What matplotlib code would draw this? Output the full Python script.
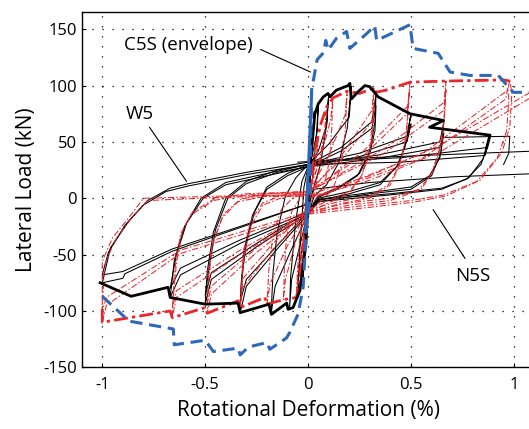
import matplotlib
matplotlib.use("Agg")
import matplotlib.pyplot as plt

plt.rcParams['font.family'] = ['Open Sans', 'DejaVu Sans']

# ---------------- data ----------------
x_ticks = [-1, -0.5, 0, 0.5, 1]
x_tick_labels = ["-1", "-0.5", "0", "0.5", "1"]
y_ticks = [-150, -100, -50, 0, 50, 100, 150]
y_tick_labels = ["-150", "-100", "-50", "0", "50", "100", "150"]

# C5S envelope (blue dashed)
c5s_x = [-1.0, -0.87, -0.655, -0.65, -0.50, -0.46, -0.34, -0.33, -0.29, -0.20, -0.186,
         -0.105, -0.089, -0.049, -0.024, -0.008, 0.008, 0.017, 0.033, 0.044, 0.074, 0.086,
         0.097, 0.138, 0.187, 0.203, 0.284, 0.324, 0.333, 0.495, 0.51, 0.632, 0.69, 0.786,
         0.924, 0.997, 1.12]
c5s_y = [-87, -109, -116, -130, -126, -136, -133, -139, -132, -128, -134,
         -124, -119, -103, -79, -26, 1, 96, 112, 123, 129, 140,
         131.5, 142, 148, 133, 146, 153, 140, 154, 133, 128.6, 112, 109,
         109, 94, 94]
c5s_core_x = [-0.012, 0.017]
c5s_core_y = [-30, 92]

# W5 envelope (black thick)
w5_env_x = [-1.01, -0.86, -0.68, -0.67, -0.50, -0.34, -0.33, -0.19, -0.178, -0.104, -0.097,
            -0.073, -0.04, -0.01, 0.0, 0.015, 0.033, 0.05, 0.074, 0.097, 0.106, 0.138, 0.195,
            0.203, 0.21, 0.24, 0.276, 0.30, 0.34, 0.495, 0.658, 0.59, 0.884, 0.868]
w5_env_y = [-75, -87, -79, -88, -94, -93, -101.5, -94, -103, -93, -98.5,
            -97, -82, -40, 0, 40, 75, 84, 90, 93, 90, 96, 100,
            102, 88, 94, 100, 99, 90, 75, 69, 63, 56, 45]

# N5S envelope (red thick dash-dot)
n5s_env_x = [-1.0, -1.0, -0.67, -0.66, -0.50, -0.49, -0.34, -0.33, -0.21, -0.2, -0.12,
             -0.056, -0.04, -0.02, 0.0, 0.03, 0.06, 0.09, 0.12, 0.19, 0.25, 0.32, 0.33,
             0.38, 0.495, 0.67, 0.95, 0.98]
n5s_env_y = [-98, -110, -100, -106, -97, -102, -91, -97, -88, -94, -90,
             -88, -70, -40, 0, 40, 65, 81, 89, 95, 93, 98, 94,
             96, 103, 104, 105, 104]

# W5 hysteresis loops (black thin)
w5_loops_x = [
    [0, 0.01, 0.02, 0.03, 0.025, 0.01, 0, -0.01, -0.02, -0.025, -0.02, -0.01, 0],
    [0, 0.02, 0.04, 0.05, 0.045, 0.02, 0, -0.02, -0.04, -0.05, -0.045, -0.02, 0],
    [0, 0.02, 0.06, 0.09, 0.10, 0.09, 0.05, 0, -0.03, -0.06, -0.085, -0.09, -0.08, -0.04, 0],
    [0, 0.03, 0.09, 0.15, 0.19, 0.21, 0.20, 0.10, 0, -0.06, -0.11, -0.15, -0.17, -0.18, -0.16, -0.08, 0],
    [0, 0.04, 0.14, 0.24, 0.30, 0.325, 0.33, 0.31, 0.16, 0, -0.1, -0.2, -0.27, -0.31, -0.325, -0.33,
     -0.30, -0.15, 0],
    [0, 0.05, 0.15, 0.25, 0.30, 0.325, 0.33, 0.31, 0.16, 0, -0.1, -0.2, -0.26, -0.30, -0.32, -0.33,
     -0.30, -0.15, 0],
    [0, 0.05, 0.2, 0.35, 0.44, 0.48, 0.50, 0.48, 0.25, 0, -0.15, -0.3, -0.4, -0.46, -0.49, -0.50,
     -0.47, -0.25, 0],
    [0, 0.05, 0.2, 0.35, 0.43, 0.47, 0.50, 0.48, 0.25, 0, -0.15, -0.3, -0.39, -0.45, -0.48, -0.50,
     -0.47, -0.25, 0],
    [0, 0.05, 0.3, 0.5, 0.6, 0.645, 0.66, 0.64, 0.33, 0, -0.2, -0.4, -0.52, -0.6, -0.65, -0.67,
     -0.62, -0.33, 0],
    [0, 0.05, 0.3, 0.5, 0.59, 0.64, 0.66, 0.64, 0.33, 0, -0.2, -0.4, -0.51, -0.59, -0.64, -0.67,
     -0.62, -0.33, 0],
    [0, 0.05, 0.4, 0.65, 0.78, 0.85, 0.88, 0.87, 0.45, 0, -0.3, -0.58, -0.67, -0.78, -0.87, -0.96,
     -1.0, -0.9, -0.89, -0.66, 0],
    [0, 0.05, 0.4, 0.65, 0.77, 0.84, 0.87, 0.86, 0.45, 0, -0.3, -0.58, -0.69, -0.8, -0.89, -0.97,
     -1.0, -0.9, -0.66, 0],
    [0.66, 0.98, 0.975, 0.95],
    [0, 0.03, 0.3, 0.7, 1.12],
    [-0.05, 0.3, 0.7, 1.12],
]
w5_loops_y = [
    [-10, 20, 50, 77, 55, 35, 25, 0, -40, -80, -55, -30, -10],
    [-12, 15, 55, 84, 60, 38, 28, 10, -45, -88, -62, -35, -12],
    [-12, 5, 30, 65, 92, 65, 42, 28, 15, -20, -70, -98, -72, -42, -12],
    [-14, 2, 12, 32, 62, 99, 72, 48, 30, 18, 2, -30, -65, -103, -78, -45, -14],
    [-14, 0, 8, 20, 42, 68, 92, 68, 45, 30, 22, 10, -15, -45, -75, -102,
     -78, -45, -14],
    [-12, 2, 10, 22, 40, 60, 82, 62, 42, 28, 20, 8, -12, -40, -68, -92,
     -72, -42, -12],
    [-14, -2, 4, 12, 30, 52, 75, 55, 40, 30, 25, 15, 0, -30, -65, -94,
     -72, -43, -14],
    [-12, 0, 6, 14, 28, 45, 66, 50, 37, 28, 23, 13, 0, -28, -60, -86,
     -66, -40, -12],
    [-14, -3, 4, 8, 20, 40, 68, 50, 38, 30, 22, 14, 0, -25, -55, -88,
     -68, -40, -14],
    [-12, -1, 5, 10, 20, 36, 58, 45, 35, 28, 20, 12, 0, -22, -50, -80,
     -62, -37, -12],
    [-14, -3, 3, 8, 18, 35, 55, 45, 36, 32, 23, 13, 9, -2, -20, -44,
     -75, -71, -67, -47, -5],
    [-10, -1, 4, 9, 17, 30, 45, 38, 32, 30, 21, 11, 6, -6, -24, -48,
     -68, -65, -45, -5],
    [54, 55, 40, 30],
    [-5, 8, 14, 19, 22],
    [32, 36, 39, 42],
]

# N5S hysteresis loops (red thin dash-dot)
n5s_loops_x = [
    [0, 0.02, 0.04, 0.05, 0.045, 0.02, 0, -0.015, -0.025, -0.03, -0.025, -0.01, 0],
    [0, 0.03, 0.06, 0.08, 0.09, 0.085, 0.05, 0, -0.02, -0.04, -0.052, -0.056, -0.05, -0.025, 0],
    [0, 0.04, 0.08, 0.105, 0.115, 0.12, 0.11, 0.06, 0, -0.04, -0.08, -0.105, -0.115, -0.12, -0.11,
     -0.06, 0],
    [0, 0.06, 0.12, 0.16, 0.18, 0.19, 0.18, 0.1, 0, -0.07, -0.13, -0.17, -0.19, -0.2, -0.185, -0.1, 0],
    [0, 0.1, 0.2, 0.26, 0.3, 0.315, 0.32, 0.31, 0.17, 0, -0.12, -0.22, -0.28, -0.315, -0.33, -0.32,
     -0.17, 0],
    [0, 0.1, 0.2, 0.26, 0.3, 0.315, 0.32, 0.31, 0.17, 0, -0.12, -0.22, -0.28, -0.31, -0.325, -0.32,
     -0.17, 0],
    [0, 0.15, 0.3, 0.4, 0.45, 0.48, 0.495, 0.485, 0.27, 0, -0.2, -0.34, -0.42, -0.47, -0.485, -0.49,
     -0.47, -0.25, 0],
    [0, 0.15, 0.3, 0.39, 0.44, 0.475, 0.49, 0.48, 0.27, 0, -0.2, -0.33, -0.41, -0.46, -0.48, -0.49,
     -0.47, -0.25, 0],
    [0, 0.2, 0.4, 0.55, 0.61, 0.65, 0.665, 0.67, 0.66, 0.37, 0, -0.3, -0.46, -0.57, -0.62, -0.65,
     -0.66, -0.64, -0.33, 0],
    [0, 0.2, 0.4, 0.54, 0.6, 0.64, 0.66, 0.67, 0.66, 0.37, 0, -0.3, -0.45, -0.56, -0.61, -0.64,
     -0.66, -0.64, -0.33, 0],
    [0, 0.3, 0.51, 0.67, 0.835, 0.94, 0.98, 0.99, 0.98, 0.97, 0.56, 0.07, 0, -0.4, -0.8, -0.87,
     -0.95, -1.0, -1.0, -0.98, -0.62, 0],
    [0, 0.3, 0.5, 0.66, 0.82, 0.92, 0.965, 0.975, 0.97, 0.96, 0.56, 0.07, 0, -0.4, -0.78, -0.86,
     -0.94, -0.99, -1.0, -0.98, -0.62, 0],
    [1.15, 1.07, 0.64, 0.3, 0],
    [1.15, 1.07, 0.64, 0.3, 0],
]
n5s_loops_y = [
    [-8, 15, 40, 55, 40, 15, 5, -10, -35, -60, -42, -20, -8],
    [-10, 5, 30, 60, 81, 62, 30, 4, -5, -35, -65, -88, -68, -35, -10],
    [-12, 0, 12, 35, 62, 89, 70, 35, 4, 0, -12, -35, -62, -90, -72,
     -38, -12],
    [-12, -3, 8, 28, 58, 95, 74, 38, 4, 1, -10, -32, -62, -94, -76, -42, -12],
    [-13, -4, 4, 20, 45, 72, 98, 78, 40, 4, 1, -6, -25, -55, -97, -80,
     -45, -13],
    [-10, -2, 6, 20, 40, 62, 85, 68, 36, 6, 3, -4, -20, -45, -88, -72,
     -40, -10],
    [-13, -5, 0, 12, 32, 60, 103, 82, 42, 4, 2, -3, -18, -45, -75, -102,
     -85, -48, -13],
    [-10, -3, 2, 12, 28, 52, 92, 75, 38, 6, 4, -1, -14, -38, -65, -94,
     -78, -44, -10],
    [-14, -6, -2, 8, 25, 50, 78, 104, 85, 44, 5, 3, -2, -15, -32, -65,
     -106, -88, -50, -14],
    [-12, -4, 0, 8, 22, 45, 70, 96, 78, 40, 6, 4, 0, -12, -28, -58,
     -98, -82, -46, -12],
    [-14, -8, -3.5, 2, 16, 40, 63, 93, 105, 96, 40, 4, 3, 2, 0, -17,
     -35, -56, -110, -95, -49, -14],
    [-12, -6, -2, 3, 15, 36, 60, 88, 98, 88, 36, 3, 2, 1, -2, -18,
     -38, -60, -100, -88, -46, -12],
    [100, 93, 47, 20, 3],
    [95, 88, 41, 16, 0],
]

# annotations: label, text position, leader start, leader end
ann_labels = ["C5S (envelope)", "W5", "N5S"]
ann_text_xy = [(-0.58, 136), (-0.82, 75), (0.80, -69)]
ann_line_from = [(-0.243, 133), (-0.778, 65), (0.77, -55.5)]
ann_line_to = [(0.024, 111), (-0.583, 13), (0.60, -8)]

# ---------------- figure ----------------
RED = "#e8262b"
BLUE = "#2e68b8"

fig = plt.figure(figsize=(5.29, 4.29), dpi=100)
ax = fig.add_axes([0.1544, 0.1438, 0.856, 0.8275])

for lx, ly in zip(w5_loops_x, w5_loops_y):
    ax.plot(lx, ly, color="black", lw=0.75, zorder=2)
for lx, ly in zip(n5s_loops_x, n5s_loops_y):
    ax.plot(lx, ly, color=RED, lw=0.75, dashes=(6, 2, 1.5, 2), zorder=3)

ax.plot(n5s_env_x, n5s_env_y, color=RED, lw=2.0, dashes=(5, 1.5, 1.2, 1.5), zorder=4)
ax.plot(w5_env_x, w5_env_y, color="black", lw=2.0, zorder=5)
ax.plot(c5s_x, c5s_y, color=BLUE, lw=2.2, dashes=(4, 2.2), zorder=6)
ax.plot(c5s_core_x, c5s_core_y, color=BLUE, lw=2.2, zorder=6)

for lab, txy, p0, p1 in zip(ann_labels, ann_text_xy, ann_line_from, ann_line_to):
    ax.text(txy[0], txy[1], lab, ha="center", va="center", fontsize=13.5, zorder=7)
    ax.annotate("", xy=p1, xytext=p0,
                arrowprops=dict(arrowstyle="-", color="black", lw=0.8), zorder=7)

ax.set_xlim(-1.1, 1.1)
ax.set_ylim(-150, 165)
ax.set_xticks(x_ticks)
ax.set_xticklabels(x_tick_labels)
ax.set_yticks(y_ticks)
ax.set_yticklabels(y_tick_labels)
ax.tick_params(direction="in", length=3, labelsize=12, width=0.8)
ax.tick_params(axis="x", pad=7)
ax.grid(True, color="black", linestyle=(0, (1, 7)), lw=0.9)
ax.spines["right"].set_visible(False)
for s in ["left", "bottom", "top"]:
    ax.spines[s].set_linewidth(1.0)

ax.set_xlabel("Rotational Deformation (%)", fontsize=15, labelpad=5)
ax.set_ylabel("Lateral Load (kN)", fontsize=15, labelpad=4)

fig.savefig("out.png", dpi=100)
